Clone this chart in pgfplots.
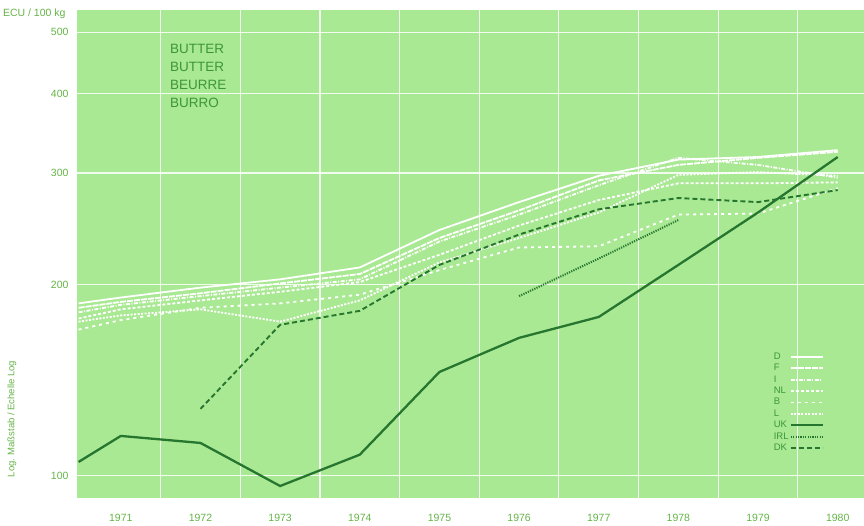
\documentclass[border=0pt]{standalone}
\usepackage{pgfplots}
\pgfplotsset{compat=1.18}
\usepackage{fontspec}
\setmainfont{Liberation Sans}

\definecolor{bg}{RGB}{170,233,148}
\definecolor{dkg}{RGB}{38,118,48}
\definecolor{tickg}{RGB}{100,180,70}
\definecolor{labg}{RGB}{60,150,55}

\begin{document}
\begin{tikzpicture}[x=1pt,y=1pt]
\path[use as bounding box] (0,0) rectangle (864,525);
\begin{axis}[
  at={(77pt,27pt)}, anchor=south west,
  scale only axis, width=787pt, height=488pt,
  xmin=1970.45, xmax=1980.33,
  ymode=log, ymin=92.3, ymax=542,
  axis background/.style={fill=bg},
  axis line style={draw=none},
  xtick={1971,1972,1973,1974,1975,1976,1977,1978,1979,1980},
  xticklabels={1971,1972,1973,1974,1975,1976,1977,1978,1979,1980},
  minor xtick={1971.5,1972.5,1973.5,1974.5,1975.5,1976.5,1977.5,1978.5,1979.5},
  xminorgrids=true, xmajorgrids=false,
  ytick={100,200,300,400,500},
  yticklabels={100,200,300,400,500},
  ymajorgrids=true,
  major grid style={white, opacity=0.85, line width=1.1pt},
  minor grid style={white, opacity=0.85, line width=1.1pt},
  major tick length=0pt, minor tick length=0pt,
  tick label style={text=tickg, font=\fontsize{10.5}{12}\selectfont},
  xticklabel style={yshift=-13pt},
  yticklabel style={xshift=-5pt},
  legend style={at={(0.88,0.305)}, anchor=north west, draw=none, fill=none,
    font=\fontsize{9.5}{10}\selectfont,
    nodes={text=labg, inner sep=1pt, text height=7pt, text depth=2pt},
    row sep=0.4pt},
  legend cell align=left,
  legend plot pos=right,
  legend image code/.code={\draw[#1] (2pt,0pt) -- (34pt,0pt);},
]
% white lines
\addplot[white, line width=1.8pt] coordinates {
  (1970.47,187) (1971,191) (1972,198) (1973,204) (1974,213) (1975,244)
  (1976,270) (1977,297) (1978,315) (1979,318) (1980,326)};
\addlegendentry{D}
\addplot[white, line width=1.8pt, dash pattern=on 6pt off 1pt] coordinates {
  (1970.47,184) (1971,188) (1972,194) (1973,201) (1974,208) (1975,237)
  (1976,262) (1977,292) (1978,309) (1979,317) (1980,324)};
\addlegendentry{F}
\addplot[white, line width=1.8pt, dash pattern=on 4pt off 1.5pt on 1pt off 1.5pt] coordinates {
  (1970.47,181) (1971,186) (1972,192) (1973,198) (1974,204) (1975,234)
  (1976,258) (1977,287) (1978,317) (1979,309) (1980,295)};
\addlegendentry{I}
\addplot[white, line width=1.8pt, dash pattern=on 3pt off 2pt] coordinates {
  (1970.47,177) (1971,183) (1972,189) (1973,195) (1974,202) (1975,223)
  (1976,248) (1977,272) (1978,289) (1979,289) (1980,290)};
\addlegendentry{NL}
\addplot[white, line width=1.8pt, dash pattern=on 3pt off 4pt] coordinates {
  (1970.47,170) (1971,176) (1972,184) (1973,187) (1974,193) (1975,211)
  (1976,229) (1977,230) (1978,258) (1979,259) (1980,284)};
\addlegendentry{B}
\addplot[white, line width=1.8pt, dash pattern=on 2pt off 1.5pt] coordinates {
  (1970.47,175) (1971,179) (1972,183) (1973,175) (1974,189) (1975,217)
  (1976,237) (1977,260) (1978,298) (1979,301) (1980,297)};
\addlegendentry{L}
% dark green lines
\addplot[dkg, line width=2.3pt] coordinates {
  (1970.47,105.2) (1971,115.6) (1972,112.7) (1973,96.4) (1974,108) (1975,145.8)
  (1976,165) (1977,178) (1978,215) (1979,260) (1980,318)};
\addlegendentry{UK}
\addplot[dkg, line width=2pt, dash pattern=on 1.2pt off 1.2pt] coordinates {
  (1976,192) (1977,220) (1978,253)};
\addlegendentry{IRL}
\addplot[dkg, line width=1.9pt, dash pattern=on 5pt off 3pt] coordinates {
  (1972,127.5) (1973,173) (1974,182) (1975,215) (1976,240) (1977,263)
  (1978,274) (1979,270) (1980,282)};
\addlegendentry{DK}
\end{axis}
\node[anchor=east, text=tickg, font=\fontsize{10.5}{12}\selectfont] at (69,511) {ECU / 100 kg};
\node[rotate=90, text=tickg, font=\fontsize{9.5}{11}\selectfont] at (12,106) {Log. Maßstab / Echelle Log};
\node[anchor=north west, align=left, inner sep=0pt, text=labg,
  font=\fontsize{13.5}{18}\selectfont] at (170,481) {BUTTER\\BUTTER\\BEURRE\\BURRO};
\end{tikzpicture}
\end{document}
